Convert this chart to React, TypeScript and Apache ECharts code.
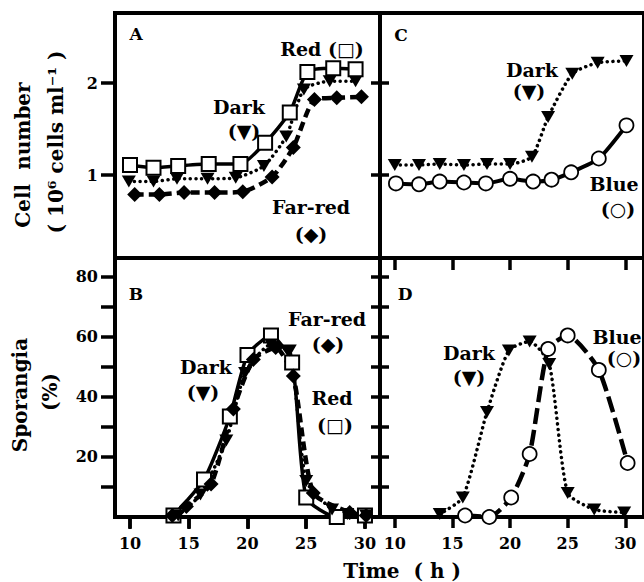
import React, { useEffect, useRef } from "react";
import * as echarts from "echarts";

// ---------- Data ----------
// Panel A: cell number (10^6 cells/ml) vs time (h)
const aRedT = [10, 12, 14.1, 16.7, 19.4, 21.5, 23.6, 25.1, 27.3, 29.2];
const aRedN = [1.11, 1.08, 1.1, 1.12, 1.12, 1.35, 1.68, 2.12, 2.16, 2.15];
const aDarkT = [9.9, 12, 14, 16.6, 19.0, 21.4, 23.3, 24.8, 27.0, 29.2];
const aDarkN = [0.93, 0.93, 0.96, 0.96, 0.97, 1.1, 1.42, 1.93, 2.02, 2.02];
const aFarT = [10.4, 12.5, 14.6, 17.2, 19.6, 22.1, 23.9, 25.7, 27.6, 29.7];
const aFarN = [0.79, 0.79, 0.81, 0.81, 0.82, 0.98, 1.3, 1.82, 1.84, 1.85];

// Panel C: cell number, Dark vs Blue
const cDarkT = [10, 12.1, 13.9, 16, 18, 20, 21.9, 23.3, 25.4, 27.6, 30.1];
const cDarkN = [1.11, 1.11, 1.12, 1.11, 1.12, 1.12, 1.2, 1.63, 2.1, 2.22, 2.24];
const cBlueT = [10.1, 12.1, 13.9, 16, 17.9, 20, 22, 23.6, 25.3, 27.7, 30.1];
const cBlueN = [0.91, 0.9, 0.93, 0.92, 0.91, 0.96, 0.93, 0.95, 1.03, 1.18, 1.54];

// Panel B: sporangia (%)
const bRedT = [13.7, 16.3, 18.5, 20.0, 22.0, 23.8, 25.0, 27.6, 30.0];
const bRedS = [0.5, 12.5, 33.5, 54, 60.5, 51.5, 6.5, 0, 0.5];
const bDarkT = [14.1, 16.0, 18.2, 19.8, 22.0, 23.6, 25.0, 27.2, 28.5, 30.1];
const bDarkS = [0.5, 7.5, 25.5, 48, 57.5, 55.5, 12, 2.5, 1, 0.5];
const bFarT = [13.6, 14.8, 16.9, 18.8, 20.5, 22.4, 23.9, 25.6, 28.7, 30.1];
const bFarS = [0.5, 3.5, 11, 36, 52.5, 56.5, 47, 8, 1.5, 0.5];

// Panel D: sporangia (%), Dark vs Blue
const dDarkT = [13.9, 15.9, 18.0, 19.9, 21.7, 23.4, 25.0, 27.3, 29.9];
const dDarkS = [1, 6.5, 35, 55.5, 58.5, 51, 8, 2.5, 1.5];
const dBlueT = [16.1, 18.2, 20.1, 21.7, 23.3, 25.0, 27.7, 30.2];
const dBlueS = [0.5, 0, 6.5, 21, 56, 60.5, 49, 18];

// Tick values
const timeTicks = [10, 15, 20, 25, 30];
const cellTicks = [1, 2];
const sporTicks = [10, 20, 30, 40, 50, 60, 70, 80];
const sporLabels = [20, 40, 60, 80];

const zip = (t: number[], v: number[]) => t.map((x, i) => [x, v[i]]);

const FONT = "DejaVu Serif";

export default function App() {
  const ref = useRef<HTMLDivElement>(null);
  useEffect(() => {
    if (!ref.current) return;
    const chart = echarts.init(ref.current, undefined, { renderer: "svg" });

    const lbl = (vals: number[], margin: number) => ({
      show: true,
      customValues: vals,
      margin,
      color: "#000",
      fontFamily: FONT,
      fontWeight: "bold",
      fontSize: 16,
    });
    const tick = (vals: number[], len: number, inside: boolean) => ({
      show: true,
      customValues: vals,
      length: len,
      inside,
      lineStyle: { color: "#000", width: 3.5 },
    });
    const hidden = { show: false };

    const solid = { color: "#000", width: 3.5, type: "solid" };
    const dotted = { color: "#000", width: 3.5, type: [0.1, 5.5], cap: "round" };
    const dashed = { color: "#000", width: 4.5, type: [9, 5] };
    const longDash = { color: "#000", width: 4.5, type: [16, 6] };

    const openSq = { symbol: "rect", symbolSize: 14, itemStyle: { color: "#fff", borderColor: "#000", borderWidth: 2 } };
    const tri = { symbol: "triangle", symbolRotate: 180, symbolSize: [14, 12], itemStyle: { color: "#000" } };
    const dia = { symbol: "diamond", symbolSize: 15, itemStyle: { color: "#000" } };
    const openCi = { symbol: "circle", symbolSize: 14, itemStyle: { color: "#fff", borderColor: "#000", borderWidth: 1.8 } };

    const mk = (data: number[][], xi: number, yi: number, ls: any, sym: any) => ({
      type: "line",
      xAxisIndex: xi,
      yAxisIndex: yi,
      data,
      smooth: 0.2,
      showSymbol: true,
      lineStyle: ls,
      ...sym,
      emphasis: { disabled: true },
    });

    const txt = (x: number, y: number, text: string, size = 19, rot = 0) => ({
      type: "text",
      x,
      y,
      rotation: rot,
      z: 100,
      style: {
        text,
        fill: "#000",
        font: `bold ${size}px "${FONT}"`,
        align: "center",
        verticalAlign: "middle",
        textAlign: "center",
        textVerticalAlign: "middle",
      },
    });

    const gridBase = { show: true, borderColor: "#000", borderWidth: 4, backgroundColor: "transparent", containLabel: false };
    const abMin = 8.723, abMax = 31.28, cdMin = 8.718, cdMax = 31.62;
    const cellMin = 0.1, cellMax = 2.76, sporMin = 0, sporMax = 86.3;

    chart.setOption({
      animation: false,
      backgroundColor: "#fff",
      grid: [
        { ...gridBase, left: 115, top: 13, width: 265, height: 245 },
        { ...gridBase, left: 380, top: 13, width: 268, height: 245 },
        { ...gridBase, left: 115, top: 258, width: 265, height: 259 },
        { ...gridBase, left: 380, top: 258, width: 268, height: 259 },
      ],
      xAxis: [
        { type: "value", gridIndex: 0, min: abMin, max: abMax, show: false },
        { type: "value", gridIndex: 1, min: cdMin, max: cdMax, show: false },
        { type: "value", gridIndex: 2, min: abMin, max: abMax, position: "bottom", axisLine: hidden, splitLine: hidden, axisTick: tick(timeTicks, 11, false), axisLabel: lbl(timeTicks, 18) },
        { type: "value", gridIndex: 2, min: abMin, max: abMax, position: "top", axisLine: hidden, splitLine: hidden, axisTick: tick(timeTicks, 12, true), axisLabel: hidden },
        { type: "value", gridIndex: 3, min: cdMin, max: cdMax, position: "bottom", axisLine: hidden, splitLine: hidden, axisTick: tick(timeTicks, 11, false), axisLabel: lbl(timeTicks, 18) },
        { type: "value", gridIndex: 3, min: cdMin, max: cdMax, position: "top", axisLine: hidden, splitLine: hidden, axisTick: tick(timeTicks, 12, true), axisLabel: hidden },
      ],
      yAxis: [
        { type: "value", gridIndex: 0, min: cellMin, max: cellMax, position: "left", axisLine: hidden, splitLine: hidden, axisTick: tick(cellTicks, 14, false), axisLabel: lbl(cellTicks, 17) },
        { type: "value", gridIndex: 0, min: cellMin, max: cellMax, position: "right", axisLine: hidden, splitLine: hidden, axisTick: tick(cellTicks, 9, true), axisLabel: hidden },
        { type: "value", gridIndex: 1, min: cellMin, max: cellMax, position: "left", axisLine: hidden, splitLine: hidden, axisTick: tick(cellTicks, 9, true), axisLabel: hidden },
        { type: "value", gridIndex: 2, min: sporMin, max: sporMax, position: "left", axisLine: hidden, splitLine: hidden, axisTick: tick(sporTicks, 14, false), axisLabel: lbl(sporLabels, 17) },
        { type: "value", gridIndex: 2, min: sporMin, max: sporMax, position: "right", axisLine: hidden, splitLine: hidden, axisTick: tick(sporTicks, 9, true), axisLabel: hidden },
        { type: "value", gridIndex: 3, min: sporMin, max: sporMax, position: "left", axisLine: hidden, splitLine: hidden, axisTick: tick(sporTicks, 9, true), axisLabel: hidden },
      ],
      series: [
        // A
        mk(zip(aFarT, aFarN), 0, 0, dashed, dia),
        mk(zip(aDarkT, aDarkN), 0, 0, dotted, tri),
        mk(zip(aRedT, aRedN), 0, 0, solid, openSq),
        // C
        mk(zip(cDarkT, cDarkN), 1, 2, dotted, tri),
        mk(zip(cBlueT, cBlueN), 1, 2, { ...solid, width: 4 }, openCi),
        // B
        mk(zip(bRedT, bRedS), 2, 3, solid, openSq),
        mk(zip(bFarT, bFarS), 2, 3, dashed, dia),
        mk(zip(bDarkT, bDarkS), 2, 3, dotted, tri),
        // D
        mk(zip(dDarkT, dDarkS), 4, 5, dotted, tri),
        mk(zip(dBlueT, dBlueS), 4, 5, longDash, openCi),
      ],
      graphic: [
        // panel letters
        txt(136, 34, "A", 17),
        txt(401, 35, "C", 17),
        txt(136, 294, "B", 17),
        txt(405, 294, "D", 17),
        // A annotations
        txt(322, 49, "Red (\u25A1)"),
        txt(239, 107, "Dark"),
        txt(244, 131, "(\u25BC)"),
        txt(311, 207, "Far-red"),
        txt(311, 234, "(\u25C6)"),
        // C annotations
        txt(532, 70, "Dark"),
        txt(529, 91, "(\u25BC)"),
        txt(614, 184, "Blue"),
        txt(618, 209, "(\u25CB)"),
        // B annotations
        txt(327, 319, "Far-red"),
        txt(328, 344, "(\u25C6)"),
        txt(206, 367, "Dark"),
        txt(203, 392, "(\u25BC)"),
        txt(332, 398, "Red"),
        txt(335, 425, "(\u25A1)"),
        // D annotations
        txt(469, 353, "Dark"),
        txt(469, 377, "(\u25BC)"),
        txt(617, 337, "Blue"),
        txt(624, 358, "(\u25CB)"),
        // axis titles
        txt(23, 155, "Cell  number", 20, Math.PI / 2),
        txt(56, 142, "( 10\u2076 cells ml\u207B\u00B9 )", 20, Math.PI / 2),
        txt(20, 395, "Sporangia", 20, Math.PI / 2),
        txt(50, 392, "(%)", 20, Math.PI / 2),
        txt(402, 571, "Time  ( h )", 20),
      ],
    });
    return () => chart.dispose();
  }, []);

  return (
    <div
      ref={ref}
      style={{ position: "fixed", left: 0, top: 0, width: 644, height: 582, background: "#fff" }}
    />
  );
}
